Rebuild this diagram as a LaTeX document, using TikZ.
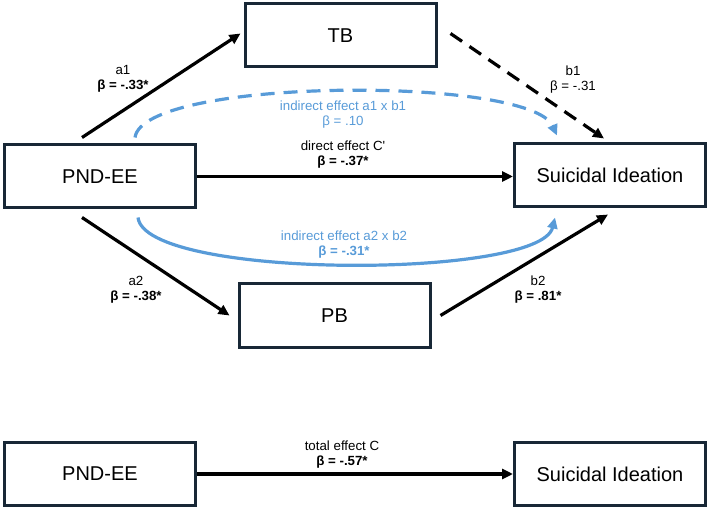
\documentclass[tikz,border=0pt]{standalone}
\usepackage{fontspec}
\setmainfont{Liberation Sans}
\usetikzlibrary{arrows.meta,calc}
\definecolor{boxline}{RGB}{24,40,54}
\definecolor{effblue}{RGB}{88,155,216}
\begin{document}
\begin{tikzpicture}[x=1pt,y=-1pt,
  varbox/.style={draw=boxline, line width=3pt, fill=white, minimum width=191pt,
    minimum height=63pt, inner sep=0pt, font=\fontsize{20}{24}\selectfont},
  lab/.style={align=center, inner sep=0pt, font=\fontsize{13.3}{15}\selectfont},
  bluelab/.style={lab, text=effblue},
  arr/.style={line width=3.2pt, -{Triangle[length=11pt,width=10pt]}},
  dasharr/.style={arr, dash pattern=on 14pt off 9pt},
  bluearr/.style={line width=3.2pt, draw=effblue, -{Triangle[length=11pt,width=10pt]}},
  bluedasharr/.style={bluearr, dash pattern=on 14pt off 9pt}
]
\useasboundingbox (0,0) rectangle (709,510);

% boxes
\node[varbox] (tb)  at (340.5,35.5)  {TB};
\node[varbox] (pnd) at (100,176.5)   {PND-EE};
\node[varbox] (si)  at (610,175.5)   {Suicidal Ideation};
\node[varbox] (pb)  at (334.5,315.5) {PB};
\node[varbox] (pndb) at (100,474)    {PND-EE};
\node[varbox] (sib)  at (610,474)    {Suicidal Ideation};

% connector end points
\coordinate (a1s) at ($(pnd.north)+(-18,-6)$);
\coordinate (a1e) at ($(tb.west)+(-3,-2)$);
\coordinate (a2s) at ($(pnd.south)+(-18,8)$);
\coordinate (a2e) at ($(pb.west)+(-8,0)$);
\coordinate (b1s) at ($(tb.east)+(13,-2)$);
\coordinate (b1e) at ($(si.north)+(-6,-4)$);
\coordinate (b2s) at ($(pb.east)+(9,0)$);
\coordinate (b2e) at ($(si.south)+(-2,6)$);
\coordinate (i1s) at ($(pnd.north)+(35,-6)$);
\coordinate (i1e) at ($(si.north)+(-53,-7)$);
\coordinate (i2s) at ($(pnd.south)+(38,8)$);
\coordinate (i2e) at ($(si.south)+(-55,9)$);

% connectors
\draw[arr] (a1s) -- (a1e);
\draw[arr] (a2s) -- (a2e);
\draw[dasharr] (b1s) -- (b1e);
\draw[arr] (b2s) -- (b2e);
\draw[arr] (pnd.east) -- (pnd.east -| si.west);
\draw[bluedasharr] (i1s) .. controls +(8,-60) and +(-27,-60) .. (i1e);
\draw[bluearr] (i2s) .. controls +(7,62) and +(-15,62) .. (i2e);
\draw[arr] (pndb.east) -- (sib.west);

% labels
\node[lab] (la1) at (123,79) {a1\\\textbf{β = -.33*}};
\node[lab] (lb1) at (573,80) {b1\\β = -.31};
\node[bluelab] (li1) at (343,115) {indirect effect a1 x b1\\β = .10};
\node[lab] (ldir) at (343,155) {direct effect C\textquotesingle\\\textbf{β = -.37*}};
\node[bluelab] (li2) at (344,244.5) {indirect effect a2 x b2\\\textbf{β = -.31*}};
\node[lab] (la2) at (136,290) {a2\\\textbf{β = -.38*}};
\node[lab] (lb2) at (538,290) {b2\\\textbf{β = .81*}};
\node[lab] (ltot) at (342,455) {total effect C\\\textbf{β = -.57*}};
\end{tikzpicture}
\end{document}
